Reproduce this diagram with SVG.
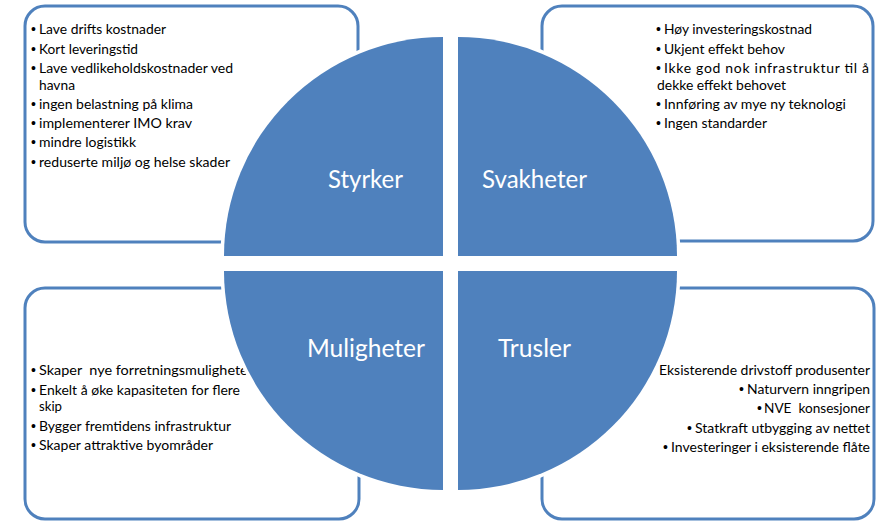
<svg xmlns="http://www.w3.org/2000/svg" width="879" height="521" viewBox="0 0 879 521">
<style>
.bg{fill:#ffffff}
.box{fill:#ffffff;stroke:#4f81bd;stroke-width:3}
.q{fill:#4f81bd;stroke:#ffffff;stroke-width:7;paint-order:stroke;stroke-linejoin:miter}
.t{font-family:Lato,"Liberation Sans",sans-serif;font-size:14px;fill:#000000;white-space:pre}
.b{font-family:"Liberation Sans",Arial,sans-serif;font-size:14px;fill:#000000}
.lbl{font-family:Lato,"Liberation Sans",sans-serif;font-size:25px;fill:#ffffff}
</style>
<rect class="bg" x="0" y="0" width="879" height="521"/>
<g id="connectors"/>
<g id="box-styrker">
<rect class="box" x="25" y="6" width="333" height="236" rx="20"/>
<text class="b" x="31" y="34">•</text><text class="t" x="39" y="34" textLength="127" lengthAdjust="spacingAndGlyphs">Lave drifts kostnader</text>
<text class="b" x="31" y="54">•</text><text class="t" x="39" y="54" textLength="99" lengthAdjust="spacingAndGlyphs">Kort leveringstid</text>
<text class="b" x="31" y="73">•</text><text class="t" x="39" y="73" textLength="194" lengthAdjust="spacingAndGlyphs">Lave vedlikeholdskostnader ved</text>
<text class="t" x="39" y="90" textLength="36" lengthAdjust="spacingAndGlyphs">havna</text>
<text class="b" x="31" y="109">•</text><text class="t" x="39" y="109" textLength="154" lengthAdjust="spacingAndGlyphs">ingen belastning på klima</text>
<text class="b" x="31" y="128">•</text><text class="t" x="39" y="128" textLength="153" lengthAdjust="spacingAndGlyphs">implementerer IMO krav</text>
<text class="b" x="31" y="147">•</text><text class="t" x="39" y="147" textLength="97" lengthAdjust="spacingAndGlyphs">mindre logistikk</text>
<text class="b" x="31" y="167">•</text><text class="t" x="39" y="167" textLength="191" lengthAdjust="spacingAndGlyphs">reduserte miljø og helse skader</text>
</g>
<g id="box-svakheter">
<rect class="box" x="542" y="6" width="331" height="235" rx="20"/>
<text class="b" x="656" y="34">•</text><text class="t" x="664" y="34" textLength="148" lengthAdjust="spacingAndGlyphs">Høy investeringskostnad</text>
<text class="b" x="656" y="54">•</text><text class="t" x="664" y="54" textLength="121" lengthAdjust="spacingAndGlyphs">Ukjent effekt behov</text>
<text class="b" x="656" y="73">•</text><text class="t" x="664" y="73" textLength="205" lengthAdjust="spacing">Ikke god nok infrastruktur til å</text>
<text class="t" x="657" y="90" textLength="129" lengthAdjust="spacingAndGlyphs">dekke effekt behovet</text>
<text class="b" x="656" y="109">•</text><text class="t" x="664" y="109" textLength="182" lengthAdjust="spacingAndGlyphs">Innføring av mye ny teknologi</text>
<text class="b" x="656" y="128">•</text><text class="t" x="664" y="128" textLength="103" lengthAdjust="spacingAndGlyphs">Ingen standarder</text>
</g>
<g id="box-muligheter">
<rect class="box" x="25" y="288" width="334" height="231" rx="20"/>
<text class="b" x="31" y="375">•</text><text class="t" x="39" y="375" textLength="214" lengthAdjust="spacingAndGlyphs">Skaper  nye forretningsmuligheter</text>
<text class="b" x="31" y="395">•</text><text class="t" x="39" y="395" textLength="201" lengthAdjust="spacingAndGlyphs">Enkelt å øke kapasiteten for flere</text>
<text class="t" x="39" y="411" textLength="23" lengthAdjust="spacingAndGlyphs">skip</text>
<text class="b" x="31" y="431">•</text><text class="t" x="39" y="431" textLength="192" lengthAdjust="spacingAndGlyphs">Bygger fremtidens infrastruktur</text>
<text class="b" x="31" y="450">•</text><text class="t" x="39" y="450" textLength="174" lengthAdjust="spacingAndGlyphs">Skaper attraktive byområder</text>
</g>
<g id="box-trusler">
<rect class="box" x="542" y="288" width="332" height="231" rx="20"/>
<text class="t" x="659" y="375" textLength="211" lengthAdjust="spacingAndGlyphs">Eksisterende drivstoff produsenter</text>
<text class="b" x="739" y="394">•</text><text class="t" x="747" y="394" textLength="123" lengthAdjust="spacingAndGlyphs">Naturvern inngripen</text>
<text class="b" x="757" y="413">•</text><text class="t" x="764" y="413" textLength="106" lengthAdjust="spacingAndGlyphs">NVE  konsesjoner</text>
<text class="b" x="687" y="433">•</text><text class="t" x="695" y="433" textLength="175" lengthAdjust="spacingAndGlyphs">Statkraft utbygging av nettet</text>
<text class="b" x="663" y="452">•</text><text class="t" x="671" y="452" textLength="199" lengthAdjust="spacingAndGlyphs">Investeringer i eksisterende flåte</text>
</g>
<g id="q-styrker">
<path class="q" d="M443,256 L224,256 A219,219 0 0 1 443,37 Z"/>
<text class="lbl" x="328" y="188" textLength="75" lengthAdjust="spacingAndGlyphs">Styrker</text>
</g>
<g id="q-svakheter">
<path class="q" d="M458,256 L458,37 A219,219 0 0 1 677,256 Z"/>
<text class="lbl" x="482" y="188" textLength="105" lengthAdjust="spacingAndGlyphs">Svakheter</text>
</g>
<g id="q-muligheter">
<path class="q" d="M443,271 L443,490 A219,219 0 0 1 224,271 Z"/>
<text class="lbl" x="307" y="357" textLength="118" lengthAdjust="spacingAndGlyphs">Muligheter</text>
</g>
<g id="q-trusler">
<path class="q" d="M458,271 L677,271 A219,219 0 0 1 458,490 Z"/>
<text class="lbl" x="498" y="357" textLength="73" lengthAdjust="spacingAndGlyphs">Trusler</text>
</g>
</svg>
